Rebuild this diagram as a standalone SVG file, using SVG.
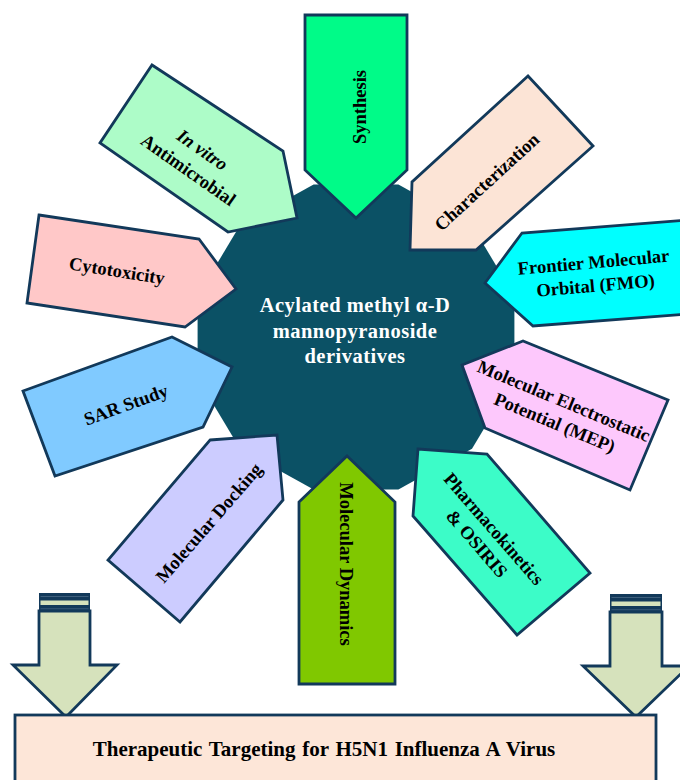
<svg xmlns="http://www.w3.org/2000/svg" width="680" height="780" viewBox="0 0 680 780">
<style>
.s{stroke:#12395a;stroke-width:2.8;stroke-linejoin:miter}
.t{font-family:"Liberation Serif","Times New Roman",serif;font-weight:bold;font-size:18.5px;fill:#000;text-anchor:middle}
.c{font-family:"Liberation Serif","Times New Roman",serif;font-weight:bold;font-size:20.5px;fill:#fff;text-anchor:middle;letter-spacing:0.5px}
.b{font-family:"Liberation Serif","Times New Roman",serif;font-weight:bold;font-size:21px;fill:#000;text-anchor:middle;word-spacing:1.5px}
.ar{fill:#d6e2bc}
</style>
<rect width="680" height="780" fill="#fff"/>
<g id="center">
<polygon points="514.4,377.9 472,448.7 398.4,489.6 313.6,489.6 240,448.7 197.6,377.9 197.6,296.1 240,225.3 313.6,184.4 398.4,184.4 472,225.3 514.4,296.1" fill="#0b5165"/>
</g>
<g id="synthesis">
<polygon class="s" points="305,15 407,15 407,170 356,218 305,170" fill="#00fb88"/>
<text class="t" transform="translate(360,107) rotate(-90)" y="6">Synthesis</text>
</g>
<g id="invitro">
<polygon class="s" points="152,65 283,151 297,218 228,232 100,143" fill="#adfcc8"/>
<g transform="translate(195.4,159.9) rotate(35)">
<text class="t" y="-6" font-style="italic">In vitro</text>
<text class="t" y="18.5">Antimicrobial</text>
</g>
</g>
<g id="characterization">
<polygon class="s" points="528,76 593,146 476,250 410,250 412,182" fill="#fce4d6"/>
<text class="t" transform="translate(487,182) rotate(-42.5)" y="6">Characterization</text>
</g>
<g id="fmo">
<polygon class="s" points="485,283 522,233 700,219 700,313 533,326" fill="#00ffff"/>
<g transform="translate(594.5,273.7) rotate(-5)">
<text class="t" y="-5.5">Frontier Molecular</text>
<text class="t" y="18">Orbital (FMO)</text>
</g>
</g>
<g id="mep">
<polygon class="s" points="462,365 523,341 668,400 630,490 485,428" fill="#fdc8fc"/>
<g transform="translate(559.3,411.8) rotate(22.5)">
<text class="t" y="-5.5">Molecular Electrostatic</text>
<text class="t" y="18">Potential (MEP)</text>
</g>
</g>
<g id="pharmacokinetics">
<polygon class="s" points="418,449 487,454 590,573 517,635 413,516" fill="#3cfcc8"/>
<g transform="translate(485.4,536.2) rotate(49)">
<text class="t" y="-5">Pharmacokinetics</text>
<text class="t" y="17.5">&amp; OSIRIS</text>
</g>
</g>
<g id="dynamics">
<polygon class="s" points="299,502 347,456 395,502 395,684 299,684" fill="#80c800"/>
<text class="t" transform="translate(346,564) rotate(90)" y="6">Molecular Dynamics</text>
</g>
<g id="docking">
<polygon class="s" points="210,440 277,435 283,500 180,622 108,560" fill="#ccccff"/>
<text class="t" transform="translate(209,523) rotate(-49)" y="6">Molecular Docking</text>
</g>
<g id="sar">
<polygon class="s" points="23,391 172,337 232,367 203,427 55,476" fill="#80caff"/>
<text class="t" transform="translate(126,405) rotate(-20)" y="6">SAR Study</text>
</g>
<g id="cytotoxicity">
<polygon class="s" points="39,215 199,239 236,289 185,327 27,303" fill="#ffc8c8"/>
<text class="t" transform="translate(117,271) rotate(9)" y="6">Cytotoxicity</text>
</g>
<g id="connectors">
<g id="arrow-left">
<rect x="39" y="593" width="51" height="19" fill="#12395a"/>
<rect x="40.5" y="600.5" width="48" height="4.5" class="ar"/>
<rect x="40.5" y="596" width="48" height="0.8" fill="#4a6a85"/>
<rect x="40.5" y="608.5" width="48" height="0.8" fill="#4a6a85"/>
<polygon class="s ar" points="39,611 90,611 90,665 117,665 66,717 13,665 39,665"/>
</g>
<g id="arrow-right">
<rect x="610" y="594" width="52" height="19" fill="#12395a"/>
<rect x="611.5" y="601.5" width="49" height="4.5" class="ar"/>
<rect x="611.5" y="597" width="49" height="0.8" fill="#4a6a85"/>
<rect x="611.5" y="609.5" width="49" height="0.8" fill="#4a6a85"/>
<polygon class="s ar" points="610,612 662,612 662,666 689,666 636,717 583,666 610,666"/>
</g>
</g>
<g id="target">
<rect class="s" x="15" y="715" width="641" height="90" fill="#fde6d8"/>
<text class="b" x="324" y="756">Therapeutic Targeting for H5N1 Influenza A Virus</text>
</g>
<g id="center-label">
<text class="c" x="355" y="312">Acylated methyl α-D</text>
<text class="c" x="355" y="337.5">mannopyranoside</text>
<text class="c" x="355" y="363">derivatives</text>
</g>
</svg>
